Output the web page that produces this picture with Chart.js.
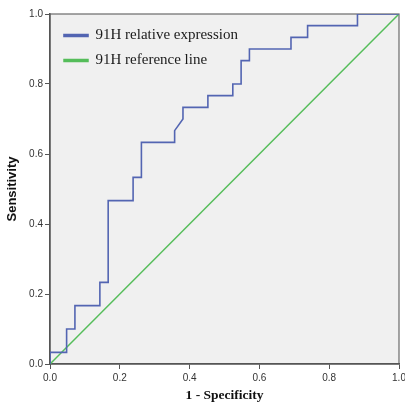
<!DOCTYPE html>
<html>
<head>
<meta charset="utf-8">
<script src="https://cdn.jsdelivr.net/npm/chart.js@4.4.1/dist/chart.umd.min.js"></script>
<style>
  html, body { margin: 0; padding: 0; background: #ffffff; }
  #wrap { width: 405px; height: 402px; position: relative; }
</style>
</head>
<body>
<div id="wrap"><canvas id="c" width="405" height="402"></canvas></div>
<script>
// ROC curve (1 - specificity, sensitivity)
const rocFpr = [0, 0, 0.0476, 0.0476, 0.0714, 0.0714, 0.1429, 0.1429, 0.1667, 0.1667,
  0.2381, 0.2381, 0.2619, 0.2619, 0.3571, 0.3571, 0.381, 0.381, 0.4524, 0.4524,
  0.5238, 0.5238, 0.5476, 0.5476, 0.5714, 0.5714, 0.6905, 0.6905, 0.7381, 0.7381,
  0.881, 0.881, 1];
const rocTpr = [0, 0.0333, 0.0333, 0.1, 0.1, 0.1667, 0.1667, 0.2333, 0.2333, 0.4667,
  0.4667, 0.5333, 0.5333, 0.6333, 0.6333, 0.6667, 0.7, 0.7333, 0.7333, 0.7667,
  0.7667, 0.8, 0.8, 0.8667, 0.8667, 0.9, 0.9, 0.9333, 0.9333, 0.9667,
  0.9667, 1, 1];
const refX = [0, 1];
const refY = [0, 1];
const seriesLabels = ['91H relative expression', '91H reference line'];
const tickValues = [0, 0.2, 0.4, 0.6, 0.8, 1.0];
const tickLabels = ['0.0', '0.2', '0.4', '0.6', '0.8', '1.0'];
const xTitle = '1 - Specificity';
const yTitle = 'Sensitivity';

const rocPts = rocFpr.map((x, i) => ({ x: x, y: rocTpr[i] }));
const refPts = refX.map((x, i) => ({ x: x, y: refY[i] }));

const frame = {
  id: 'frame',
  beforeDraw(chart) {
    const a = chart.chartArea, ctx = chart.ctx;
    ctx.save();
    ctx.fillStyle = '#f0f0f0';
    ctx.fillRect(a.left, a.top, a.right - a.left, a.bottom - a.top);
    ctx.strokeStyle = '#6a6a6a';
    ctx.lineWidth = 1.2;
    ctx.strokeRect(a.left, a.top, a.right - a.left, a.bottom - a.top);
    ctx.restore();
  }
};

// move the legend block into the upper-left corner of the plot
const legendShift = {
  id: 'legendShift',
  afterLayout(chart) {
    const lg = chart.legend;
    if (lg) { lg.top += 18; lg.bottom += 18; lg.left += 4; lg.right += 4; }
  }
};

function tickLabel(v) {
  const i = tickValues.findIndex(t => Math.abs(t - v) < 1e-6);
  return i >= 0 ? tickLabels[i] : '';
}

Chart.defaults.font.family = '"Liberation Sans", Arial, sans-serif';

new Chart(document.getElementById('c'), {
  type: 'scatter',
  data: {
    datasets: [
      { label: seriesLabels[0], data: rocPts, showLine: true, borderColor: '#5365b2',
        backgroundColor: '#5365b2', borderWidth: 1.6, pointRadius: 0, tension: 0 },
      { label: seriesLabels[1], data: refPts, showLine: true, borderColor: '#55bd5a',
        backgroundColor: '#55bd5a', borderWidth: 1.5, pointRadius: 0, tension: 0 }
    ]
  },
  options: {
    responsive: false,
    animation: false,
    layout: { padding: { top: 14, right: 6, left: 0, bottom: 0 } },
    plugins: {
      tooltip: { enabled: false },
      legend: {
        position: 'chartArea',
        align: 'start',
        labels: {
          boxWidth: 24, boxHeight: 2, padding: 10,
          color: '#1a1a1a',
          font: { family: '"Liberation Serif", "Times New Roman", serif', size: 15 }
        }
      }
    },
    scales: {
      x: {
        type: 'linear', min: 0, max: 1,
        afterFit(a) { a.height = 38; a.paddingRight = 0; a.paddingLeft = 0; },
        afterBuildTicks(a) { a.ticks = tickValues.map(v => ({ value: v })); },
        ticks: { callback: tickLabel, color: '#333', font: { size: 10 }, padding: 3, maxRotation: 0 },
        grid: { drawOnChartArea: false, drawTicks: true, tickLength: 5, color: '#555' },
        border: { display: true, color: '#555', width: 1.5 },
        title: { display: true, text: xTitle, color: '#111',
          font: { family: '"Liberation Serif", "Times New Roman", serif', size: 13.5, weight: 'bold', lineHeight: 1 },
          padding: { top: 0, bottom: 0 } }
      },
      y: {
        type: 'linear', min: 0, max: 1,
        afterFit(a) { a.width = 50; },
        afterBuildTicks(a) { a.ticks = tickValues.map(v => ({ value: v })); },
        ticks: { callback: tickLabel, color: '#333', font: { size: 10 }, padding: 2 },
        grid: { drawOnChartArea: false, drawTicks: true, tickLength: 5, color: '#555' },
        border: { display: true, color: '#555', width: 1.5 },
        title: { display: true, text: yTitle, color: '#111',
          font: { size: 13, weight: 'bold', lineHeight: 1.2 },
          padding: { top: 5, bottom: 0 } }
      }
    }
  },
  plugins: [frame, legendShift]
});
</script>
</body>
</html>
